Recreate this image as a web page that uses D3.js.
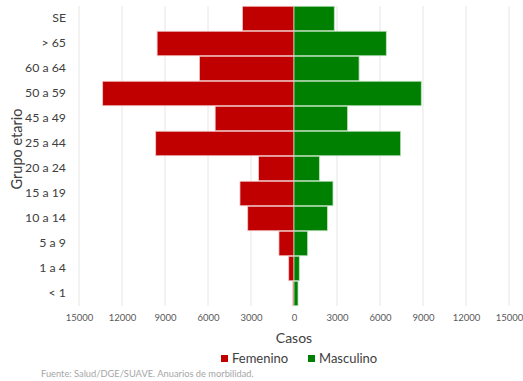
<!DOCTYPE html>
<html><head><meta charset="utf-8">
<script src="https://cdn.jsdelivr.net/npm/d3@7"></script>
<style>body{margin:0;background:#fff}svg{display:block}text{font-family:Lato,"Open Sans",sans-serif}</style>
</head><body><svg id="c" width="523" height="381"></svg>
<script>
const categories = ["SE", "> 65", "60 a 64", "50 a 59", "45 a 49", "25 a 44", "20 a 24", "15 a 19", "10 a 14", "5 a 9", "1 a 4", "< 1"];
const femenino = [3600, 9550, 6600, 13350, 5500, 9650, 2470, 3770, 3230, 1050, 370, 80];
const masculino = [2810, 6440, 4540, 8880, 3740, 7440, 1770, 2720, 2330, 950, 370, 280];
const tickValues = [-15000, -12000, -9000, -6000, -3000, 0, 3000, 6000, 9000, 12000, 15000];
const seriesNames = ["Femenino", "Masculino"];
const colors = ["#C00000", "#008000"];

const svg = d3.select("#c");
const x = d3.scaleLinear().domain([-15000, 15000]).range([79, 509]);
const y = d3.scaleBand().domain(categories).range([6, 306]).paddingInner(0.02).paddingOuter(0.01);

// gridlines
svg.append("g").selectAll("line").data(tickValues).join("line")
  .attr("x1", d => x(d)).attr("x2", d => x(d)).attr("y1", 6).attr("y2", 306)
  .attr("stroke", "#e6e6e6").attr("stroke-width", 1);

// bars
const g = svg.append("g");
g.selectAll("rect.f").data(categories).join("rect").attr("class", "f")
  .attr("x", (d, i) => x(-femenino[i])).attr("width", (d, i) => x(0) - x(-femenino[i]))
  .attr("y", d => y(d)).attr("height", y.bandwidth())
  .attr("fill", colors[0]).attr("stroke", "#f2c9c9").attr("stroke-width", 0.8);
g.selectAll("rect.m").data(categories).join("rect").attr("class", "m")
  .attr("x", x(0)).attr("width", (d, i) => x(masculino[i]) - x(0))
  .attr("y", d => y(d)).attr("height", y.bandwidth())
  .attr("fill", colors[1]).attr("stroke", "#bfe0bf").attr("stroke-width", 0.8);

// x axis ticks
const xAxis = d3.axisBottom(x).tickValues(tickValues).tickSize(0).tickPadding(0)
  .tickFormat(d => String(Math.abs(d)));
const xa = svg.append("g").attr("transform", "translate(0,314)").call(xAxis);
xa.select(".domain").remove();
xa.selectAll("text").attr("fill", "#595959").attr("font-size", "9.5px").attr("dy", "0.71em")
  .style("font-family", "Lato,'Open Sans',sans-serif");

// y axis labels
const yAxis = d3.axisLeft(y).tickSize(0).tickPadding(0);
const ya = svg.append("g").attr("transform", "translate(66,0)").call(yAxis);
ya.select(".domain").remove();
ya.selectAll("text").attr("fill", "#404040").attr("font-size", "12.3px")
  .style("font-family", "Lato,'Open Sans',sans-serif");

// axis titles
svg.append("text").attr("x", 294).attr("y", 343).attr("text-anchor", "middle")
  .attr("font-size", "14px").attr("fill", "#404040").text("Casos");
svg.append("text").attr("transform", "translate(22,149) rotate(-90)").attr("text-anchor", "middle")
  .attr("font-size", "14.5px").attr("fill", "#404040").text("Grupo etario");

// legend
const legX = [221, 308];
seriesNames.forEach((n, i) => {
  svg.append("rect").attr("x", legX[i]).attr("y", 355).attr("width", 7).attr("height", 7).attr("fill", colors[i]);
  svg.append("text").attr("x", legX[i] + 11).attr("y", 363).attr("font-size", "13px").attr("fill", "#404040").text(n);
});

// source
svg.append("text").attr("x", 41).attr("y", 377).attr("font-size", "9.3px").attr("fill", "#a6a6a6")
  .text("Fuente: Salud/DGE/SUAVE. Anuarios de morbilidad.");
</script></body></html>
